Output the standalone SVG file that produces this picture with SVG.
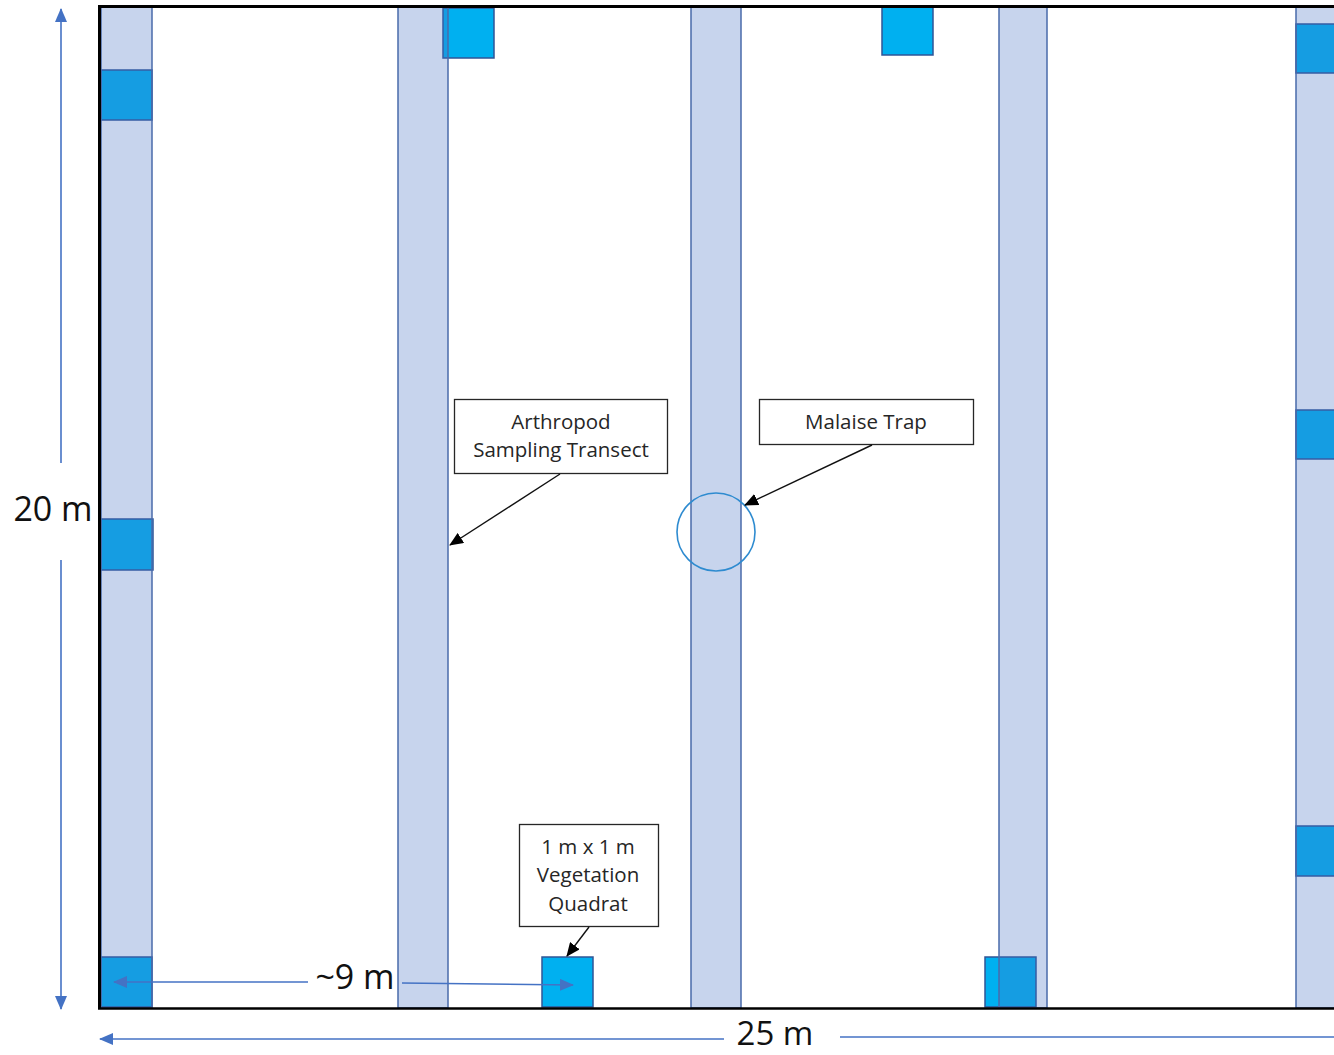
<svg xmlns="http://www.w3.org/2000/svg" width="1334" height="1055" viewBox="0 0 1334 1055">
<defs>
<style>
.quad{fill:#00B0F0;stroke:#2F5597;stroke-width:1.5}
.tran{fill:#4472C4;fill-opacity:0.3;stroke:#4A6BAA;stroke-width:1.5}
.box{fill:#fff;stroke:#262626;stroke-width:1.3}
.lbl{font-family:"Open Sans","Noto Sans",sans-serif;font-size:20.5px;fill:#262626;text-anchor:middle}
.dim{font-family:"Open Sans","Noto Sans",sans-serif;font-size:34px;fill:#111;text-anchor:middle}
.dl{stroke:#4472C4;stroke-width:1.6;fill:none}
.pl{stroke:#111;stroke-width:1.4;fill:none}
</style>
<marker id="ab" markerUnits="userSpaceOnUse" markerWidth="14" markerHeight="12" refX="13" refY="6" orient="auto-start-reverse"><path d="M0,0 L14,6 L0,12 z" fill="#000"/></marker>
<marker id="au" markerUnits="userSpaceOnUse" markerWidth="14" markerHeight="12" refX="13" refY="6" orient="auto-start-reverse"><path d="M0,0 L14,6 L0,12 z" fill="#4472C4"/></marker>
</defs>
<rect width="1334" height="1055" fill="#fff"/>
<g id="quadrats">
<rect id="q1" class="quad" x="101" y="70" width="51" height="50"/>
<rect id="q2" class="quad" x="101" y="519" width="52" height="51"/>
<rect id="q3" class="quad" x="101" y="957" width="51" height="50"/>
<rect id="q4" class="quad" x="443" y="8" width="51" height="50"/>
<rect id="q5" class="quad" x="882" y="7" width="51" height="48"/>
<rect id="q6" class="quad" x="542" y="957" width="51" height="50"/>
<rect id="q7" class="quad" x="985" y="957" width="51" height="50"/>
<rect id="q8" class="quad" x="1296" y="24" width="40" height="49"/>
<rect id="q9" class="quad" x="1296" y="410" width="40" height="49"/>
<rect id="q10" class="quad" x="1296" y="826" width="40" height="50"/>
</g>
<g id="transects">
<rect id="t1" class="tran" x="101" y="7" width="51" height="1001"/>
<rect id="t2" class="tran" x="398" y="7" width="50" height="1001"/>
<rect id="t3" class="tran" x="691" y="7" width="50" height="1001"/>
<rect id="t4" class="tran" x="999" y="7" width="48" height="1001"/>
<rect id="t5" class="tran" x="1296" y="7" width="42" height="1001"/>
</g>
<g id="plot-border">
<path d="M99.5,1008 L99.5,6.5 L1334,6.5" fill="none" stroke="#000" stroke-width="3"/>
<path d="M98,1008.5 L1334,1008.5" fill="none" stroke="#000" stroke-width="2.5"/>
</g>
<g id="malaise-trap">
<circle cx="716" cy="532" r="39" fill="none" stroke="#2E8BD0" stroke-width="1.6"/>
</g>
<g id="label-arthropod">
<rect class="box" x="454.5" y="399.5" width="213" height="74"/>
<text class="lbl" x="561" y="429">Arthropod</text>
<text class="lbl" x="561" y="457">Sampling Transect</text>
</g>
<g id="label-malaise">
<rect class="box" x="759.5" y="399.5" width="214" height="45"/>
<text class="lbl" x="866" y="429">Malaise Trap</text>
</g>
<g id="label-quadrat">
<rect class="box" x="519.5" y="824.5" width="139" height="102"/>
<text class="lbl" x="588" y="854">1 m x 1 m</text>
<text class="lbl" x="588" y="882">Vegetation</text>
<text class="lbl" x="588" y="911">Quadrat</text>
</g>
<g id="connectors">
<line class="pl" x1="560" y1="474" x2="450" y2="545" marker-end="url(#ab)"/>
<line class="pl" x1="872" y1="445" x2="745" y2="505" marker-end="url(#ab)"/>
<line class="pl" x1="589" y1="927" x2="567" y2="956" marker-end="url(#ab)"/>
</g>
<g id="dimensions">
<line class="dl" x1="61" y1="463" x2="61" y2="9" marker-end="url(#au)"/>
<line class="dl" x1="61" y1="560" x2="61" y2="1009" marker-end="url(#au)"/>
<text class="dim" x="53" y="521">20 m</text>
<line class="dl" x1="724" y1="1039" x2="100" y2="1039" marker-end="url(#au)"/>
<line class="dl" x1="840" y1="1037" x2="1334" y2="1037"/>
<text class="dim" x="775" y="1045" style="font-size:33px">25 m</text>
<line class="dl" x1="308" y1="982" x2="114" y2="982" marker-end="url(#au)"/>
<line class="dl" x1="402" y1="983" x2="573" y2="985" marker-end="url(#au)"/>
<text class="dim" x="355" y="989">~9 m</text>
</g>
</svg>
